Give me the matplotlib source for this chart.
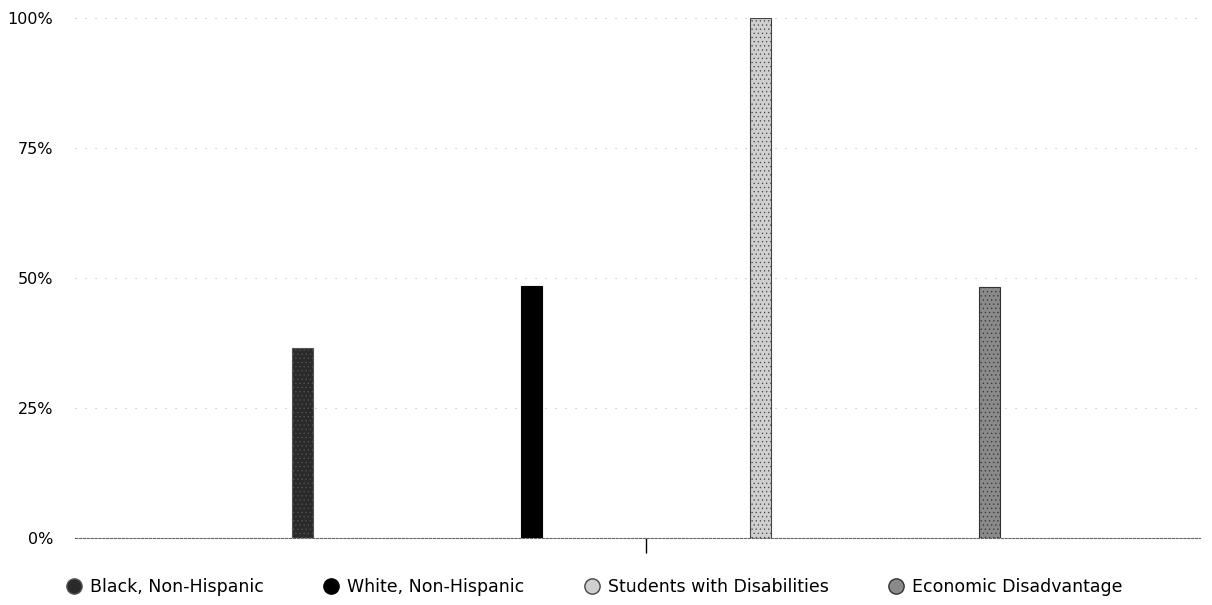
import matplotlib.pyplot as plt
import numpy as np
from matplotlib.lines import Line2D
from matplotlib.ticker import PercentFormatter

groups = ["Black, Non-Hispanic", "White, Non-Hispanic",
          "Students with Disabilities", "Economic Disadvantage"]
values = [36.6, 48.5, 100.0, 48.3]
y_ticks = [0, 25, 50, 75, 100]

fills = ["#2a2a2a", "#000000", "#cfcfcf", "#8a8a8a"]
edges = ["#555555", "#000000", "#444444", "#333333"]
hatches = ["....", None, "....", "...."]

plt.rcParams['hatch.color'] = '#ffffff'
plt.rcParams['hatch.linewidth'] = 0.4

fig = plt.figure(figsize=(12.12, 6.05), dpi=100)
ax = fig.add_axes([0.062, 0.111, 0.928, 0.859])

spacing = 0.2036
width = 0.0187
offsets = (np.arange(len(groups)) - 1.5) * spacing
for off, val, fc, ec, h in zip(offsets, values, fills, edges, hatches):
    ax.bar(off, val, width=width, color=fc, edgecolor=ec,
           linewidth=0.8, hatch=h, zorder=3)

# group sits slightly right of the plot centre
ax.set_xlim(-0.5076, 0.4924)
ax.set_ylim(0, 100)
ax.set_yticks(y_ticks)
ax.yaxis.set_major_formatter(PercentFormatter(decimals=0))
ax.set_xticks([0])
ax.set_xticklabels([""])
ax.tick_params(axis='x', length=11, width=1, color='black', direction='out')
ax.tick_params(axis='y', length=0, pad=16, labelsize=11.5)

for t in y_ticks[1:]:
    ax.axhline(t, color='#b8b8b8', linewidth=0.8,
               linestyle=(0, (1, 8)), zorder=1)

for side in ["top", "right", "left"]:
    ax.spines[side].set_visible(False)
ax.spines["bottom"].set_color('#666666')
ax.spines["bottom"].set_linestyle((0, (2, 1.5)))
ax.spines["bottom"].set_linewidth(0.8)

handles = [Line2D([], [], marker='o', linestyle='', markersize=11,
                  markerfacecolor=fc, markeredgecolor=ec)
           for fc, ec in zip(fills, edges)]
fig.legend(handles, groups, loc='center', ncol=4, frameon=False,
           bbox_to_anchor=(0.49, 1 - 587 / 605), fontsize=12.5,
           handletextpad=0.4, columnspacing=3.4, handlelength=1.0)

fig.savefig("out.png", dpi=100)
